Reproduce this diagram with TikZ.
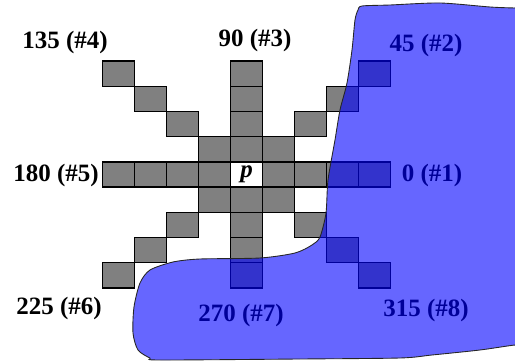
\documentclass[tikz,border=0pt]{standalone}
\usepackage{fontspec}
\setmainfont{Liberation Serif}
\usetikzlibrary{positioning}
\definecolor{cellgray}{RGB}{128,128,128}
\definecolor{regionblue}{RGB}{0,0,255}
\tikzset{
  % One pixel of the neighbourhood mask.
  cell/.style={
    rectangle, draw=black, line width=0.8pt,
    fill=cellgray,
    minimum width=6.4mm, minimum height=5.04mm,
    inner sep=0pt,
  },
  % Direction labels (angle and chain-code number).
  dir-label/.style={
    font=\fontsize{14.2}{16}\selectfont\bfseries,
    text=black, inner sep=1pt,
  },
  % Region lying over the mask.
  region/.style={
    draw=black!85, line width=0.5pt,
    fill=regionblue, fill opacity=0.6,
  },
}

\begin{document}
\begin{tikzpicture}[x=1cm, y=1cm]

  \useasboundingbox (-4.93,-3.73) rectangle (5.37,3.49);
  \clip (-4.93,-3.73) rectangle (5.37,3.49);

  % Centre pixel.
  \node[cell, fill=white, font=\fontsize{14.2}{16}\selectfont\bfseries\itshape] (p) at (0,0) {p};

  % Eight rays of four pixels each.
  \foreach \d/\dx/\dy in {1/1/0, 2/1/1, 3/0/1, 4/-1/1, 5/-1/0, 6/-1/-1, 7/0/-1, 8/1/-1} {
    \foreach \k in {1,...,4} {
      \node[cell] (r\d-\k) at (\k*\dx*0.64, \k*\dy*0.504) {};
    }
  }

  % Direction labels.
  \node[dir-label] (l1) at ( 3.71,-0.03) {0 (\#1)};
  \node[dir-label] (l2) at ( 3.59, 2.57) {45 (\#2)};
  \node[dir-label] (l3) at ( 0.17, 2.67) {90 (\#3)};
  \node[dir-label] (l4) at (-3.63, 2.63) {135 (\#4)};
  \node[dir-label] (l5) at (-3.81,-0.03) {180 (\#5)};
  \node[dir-label] (l6) at (-3.75,-2.69) {225 (\#6)};
  \node[dir-label] (l7) at (-0.11,-2.83) {270 (\#7)};
  \node[dir-label] (l8) at ( 3.59,-2.73) {315 (\#8)};

  % Region boundary.
  \draw[region] plot[smooth cycle, tension=0.45] coordinates {
    (2.23,3.29) (2.31,3.37) (2.87,3.39) (3.87,3.43) (4.87,3.35) (5.37,3.33)
    (5.67,3.33) (5.67,-3.41) (5.37,-3.41) (4.67,-3.51) (3.71,-3.61)
    (3.07,-3.67) (1.07,-3.69) (-1.73,-3.71) (-1.93,-3.67) (-2.17,-3.51)
    (-2.27,-3.17) (-2.25,-2.65) (-2.13,-2.17) (-1.93,-1.91) (-1.47,-1.75)
    (-0.93,-1.69) (0.27,-1.67) (0.97,-1.57) (1.31,-1.41) (1.47,-1.25)
    (1.59,-0.77) (1.63,-0.11) (1.77,0.69) (1.87,1.29) (2.01,1.83)
    (2.11,2.49) (2.17,3.09)
  };

\end{tikzpicture}
\end{document}
